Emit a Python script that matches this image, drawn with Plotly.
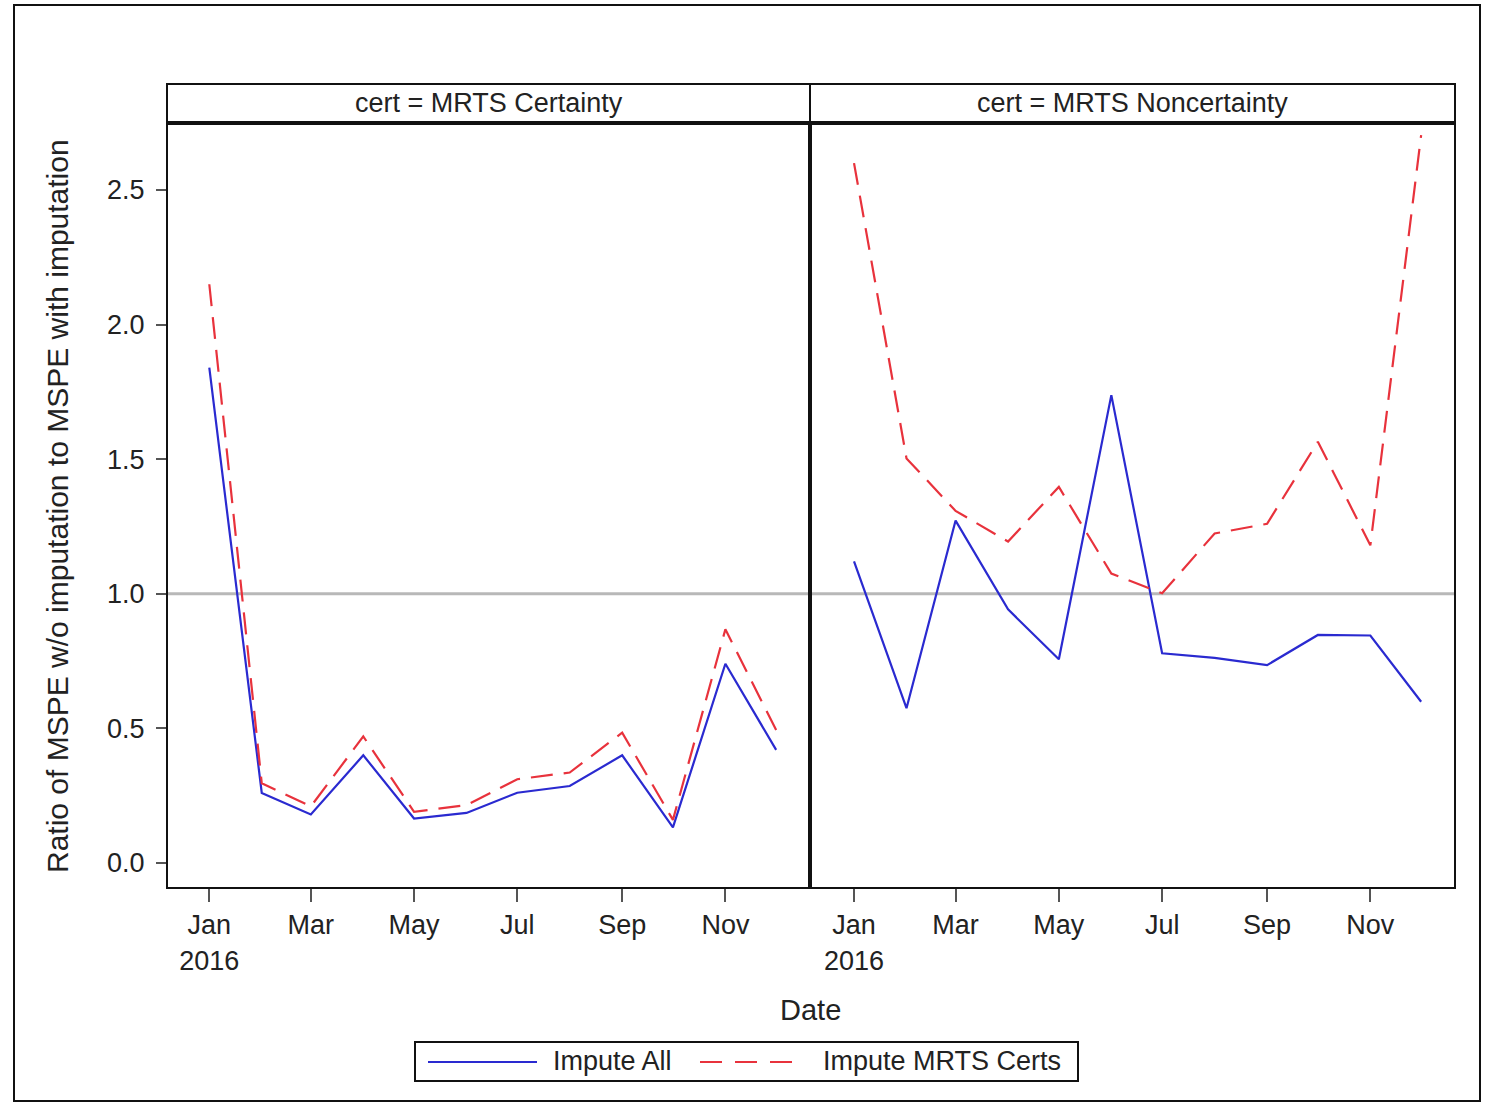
import plotly.graph_objects as go

# Monthly observation dates (first of each month, 2016)
months = [f"2016-{m:02d}-01" for m in range(1, 13)]

# Ratio of MSPE w/o imputation to MSPE with imputation, by certainty group
cert_impute_all = [1.84, 0.26, 0.18, 0.40, 0.165, 0.186, 0.261, 0.286, 0.40, 0.132, 0.74, 0.42]
cert_impute_mrts = [2.15, 0.296, 0.21, 0.47, 0.19, 0.215, 0.311, 0.336, 0.484, 0.16, 0.868, 0.494]
noncert_impute_all = [1.12, 0.575, 1.272, 0.942, 0.757, 1.738, 0.779, 0.762, 0.735, 0.847, 0.845, 0.599]
noncert_impute_mrts = [2.60, 1.503, 1.308, 1.194, 1.397, 1.075, 1.002, 1.224, 1.26, 1.565, 1.18, 2.704]

panel_titles = ["cert = MRTS Certainty", "cert = MRTS Noncertainty"]
series_names = ["Impute All", "Impute MRTS Certs"]

tick_dates = ["2016-01-01", "2016-03-01", "2016-05-01", "2016-07-01", "2016-09-01", "2016-11-01"]
tick_text = ["Jan<br>2016", "Mar", "May", "Jul", "Sep", "Nov"]
y_ticks = [0.0, 0.5, 1.0, 1.5, 2.0, 2.5]
ref_value = 1.0

W, H = 1491, 1102
FONT = "Liberation Sans, Arial, sans-serif"
TXT = "#222222"
BLUE = "#2a2ad0"
RED = "#e8323c"


def px(x):
    return x / W


def py(y):
    return 1 - y / H


left_dom = [px(167), px(810)]
right_dom = [px(810), px(1455)]
y_dom = [py(888), py(123)]

fig = go.Figure()

panels = [
    ("x", "y", cert_impute_all, cert_impute_mrts),
    ("x2", "y2", noncert_impute_all, noncert_impute_mrts),
]
for xa, ya, all_vals, mrts_vals in panels:
    fig.add_trace(go.Scatter(
        x=months, y=all_vals, xaxis=xa, yaxis=ya, mode="lines",
        name=series_names[0], showlegend=False,
        line=dict(color=BLUE, width=2.2),
    ))
    fig.add_trace(go.Scatter(
        x=months, y=mrts_vals, xaxis=xa, yaxis=ya, mode="lines",
        name=series_names[1], showlegend=False,
        line=dict(color=RED, width=2.2, dash="22px,11px"),
    ))

xaxis_common = dict(
    type="date",
    tickvals=tick_dates, ticktext=tick_text,
    ticks="outside", ticklen=13, tickwidth=2, tickcolor="#555555",
    tickfont=dict(family=FONT, size=27, color=TXT),
    showgrid=False, zeroline=False, showline=False,
)
yrange = [-0.093, 2.749]

fig.update_layout(
    width=W, height=H,
    margin=dict(l=0, r=0, t=0, b=0),
    paper_bgcolor="white", plot_bgcolor="white",
    xaxis=dict(xaxis_common, domain=left_dom, anchor="y",
               range=["2015-12-07", "2016-12-21"]),
    xaxis2=dict(xaxis_common, domain=right_dom, anchor="y2",
                range=["2015-12-06", "2016-12-21"]),
    yaxis=dict(domain=y_dom, range=yrange, anchor="x",
               tickvals=y_ticks, tickformat=".1f",
               ticks="outside", ticklen=10, tickwidth=2, tickcolor="#555555",
               ticklabelstandoff=6,
               tickfont=dict(family=FONT, size=27, color=TXT),
               showgrid=False, zeroline=False, showline=False),
    yaxis2=dict(domain=y_dom, range=yrange, anchor="x2",
                showticklabels=False, ticks="",
                showgrid=False, zeroline=False, showline=False),
)

shapes = []
# reference line at ratio = 1 in each panel
for xa, ya in [("x", "y"), ("x2", "y2")]:
    shapes.append(dict(type="line", xref=f"{xa} domain", yref=ya,
                       x0=0, x1=1, y0=ref_value, y1=ref_value,
                       line=dict(color="#b8b8b8", width=3), layer="below"))
# panel frames
for dom in (left_dom, right_dom):
    shapes.append(dict(type="rect", xref="paper", yref="paper",
                       x0=dom[0], x1=dom[1], y0=y_dom[0], y1=y_dom[1],
                       line=dict(color="#111111", width=2)))
# thicker shared divider
shapes.append(dict(type="line", xref="paper", yref="paper",
                   x0=px(810), x1=px(810), y0=py(888), y1=py(123),
                   line=dict(color="#111111", width=4)))
# strip headers
for dom in (left_dom, right_dom):
    shapes.append(dict(type="rect", xref="paper", yref="paper",
                       x0=dom[0], x1=dom[1], y0=py(123), y1=py(84),
                       line=dict(color="#111111", width=2)))
shapes.append(dict(type="line", xref="paper", yref="paper",
                   x0=px(167), x1=px(1455), y0=py(123), y1=py(123),
                   line=dict(color="#111111", width=4)))
# outer frame
shapes.append(dict(type="rect", xref="paper", yref="paper",
                   x0=px(14), x1=px(1480), y0=py(1101), y1=py(5),
                   line=dict(color="#111111", width=2)))
# legend box and samples
shapes.append(dict(type="rect", xref="paper", yref="paper",
                   x0=px(415), x1=px(1078), y0=py(1081), y1=py(1042),
                   line=dict(color="#111111", width=2)))
shapes.append(dict(type="line", xref="paper", yref="paper",
                   x0=px(428), x1=px(537), y0=py(1062), y1=py(1062),
                   line=dict(color=BLUE, width=2.2)))
shapes.append(dict(type="line", xref="paper", yref="paper",
                   x0=px(700), x1=px(802), y0=py(1062), y1=py(1062),
                   line=dict(color=RED, width=2.2, dash="22px,13px")))

annotations = []
for dom, title in zip((left_dom, right_dom), panel_titles):
    annotations.append(dict(text=title, xref="paper", yref="paper",
                            x=(dom[0] + dom[1]) / 2, y=py(103),
                            xanchor="center", yanchor="middle", showarrow=False,
                            font=dict(family=FONT, size=27, color=TXT)))
annotations.append(dict(text="Ratio of MSPE w/o imputation to MSPE with imputation",
                        xref="paper", yref="paper", x=px(57), y=py(506),
                        xanchor="center", yanchor="middle", textangle=-90,
                        showarrow=False, font=dict(family=FONT, size=30, color=TXT)))
annotations.append(dict(text="Date", xref="paper", yref="paper",
                        x=px(810), y=py(1010), xanchor="center", yanchor="middle",
                        showarrow=False, font=dict(family=FONT, size=29, color=TXT)))
annotations.append(dict(text=series_names[0], xref="paper", yref="paper",
                        x=px(551), y=py(1061), xanchor="left", yanchor="middle",
                        showarrow=False, font=dict(family=FONT, size=27, color=TXT)))
annotations.append(dict(text=series_names[1], xref="paper", yref="paper",
                        x=px(821), y=py(1061), xanchor="left", yanchor="middle",
                        showarrow=False, font=dict(family=FONT, size=27, color=TXT)))

fig.update_layout(shapes=shapes, annotations=annotations)

fig.write_html("out.html")
